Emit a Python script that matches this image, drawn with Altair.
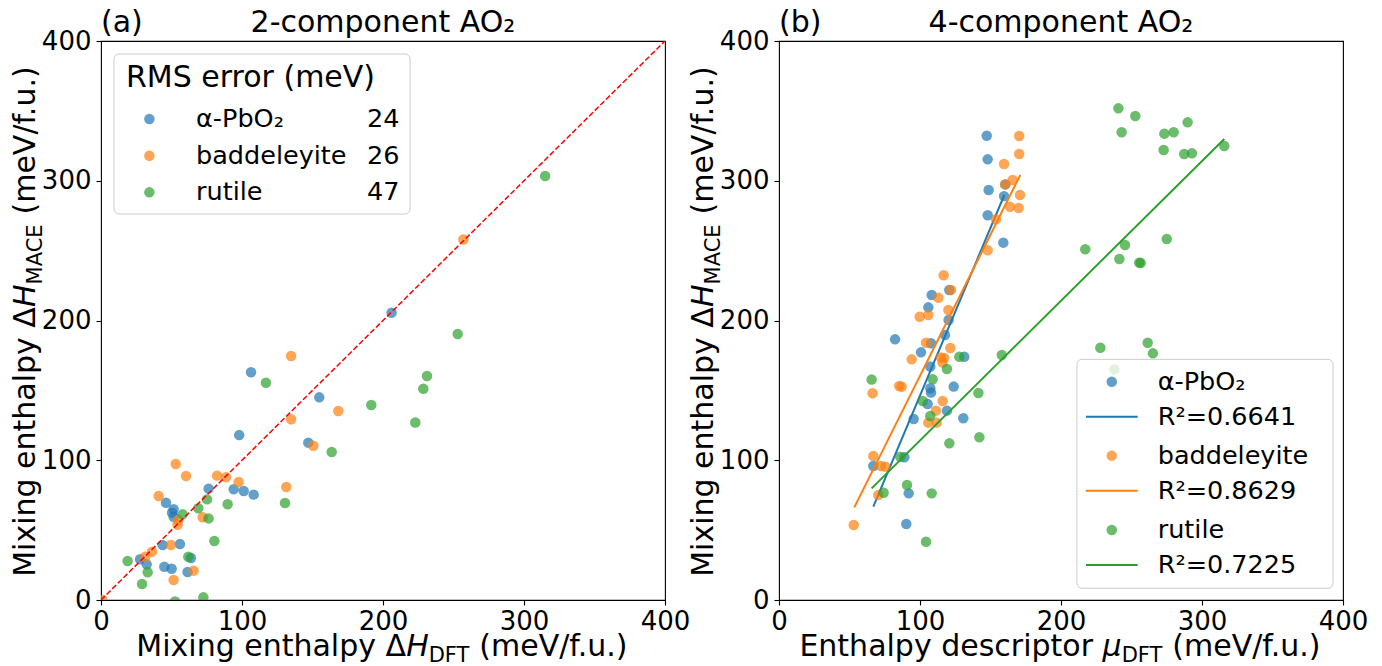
import altair as alt
import pandas as pd

FONT = "DejaVu Sans"

# ---------------- data ----------------
series_names = ["α-PbO₂", "baddeleyite", "rutile"]
series_colors = ["#1f77b4", "#ff7f0e", "#2ca02c"]
rms_errors = ["24", "26", "47"]
r2_labels = ["R²=0.6641", "R²=0.8629", "R²=0.7225"]

# panel (a): DFT vs MACE mixing enthalpy
a_pbo2_dft = [106.4, 98, 76.3, 94.1, 101.2, 108.3, 46.1, 51.5, 50.4, 51.5, 43.7, 56, 27.7, 32.4, 44.9, 50.1, 63.8, 61.4, 206.1, 154.8, 147]
a_pbo2_mace = [163, 118, 79.7, 79.2, 78, 75.4, 69.6, 64.9, 62.5, 59.6, 39.4, 40, 29.1, 25.5, 23.8, 22.4, 30, 20, 205.6, 145, 112.6]
a_badd_dft = [134.8, 134.8, 53, 60.3, 82.3, 88.7, 97.6, 131.4, 40.9, 54.8, 54.3, 72.1, 49.6, 36.2, 31.4, 65.7, 51.5, 1, 168.3, 150.6, 257]
a_badd_mace = [174.6, 129.3, 97.3, 88.7, 89, 87.8, 84.4, 80.9, 74.4, 57.2, 53.9, 59.2, 39.4, 34.6, 31, 21, 14.3, 0, 135.2, 110.4, 258]
a_rut_dft = [117, 130.5, 57.9, 69, 75.2, 76.3, 89.8, 80.4, 18.9, 33.1, 29.1, 61.9, 52.5, 72.6, 253, 231.2, 228.6, 191.7, 222.9, 163.6, 315]
a_rut_mace = [155.5, 69.4, 61.3, 65.6, 72, 58.4, 68.5, 42.2, 27.9, 19.8, 11.4, 31, -1, 1.9, 190.3, 160.3, 151.2, 139.5, 127, 105.9, 303.4]
parity_x = [0, 400]
parity_y = [0, 400]

# panel (b): enthalpy descriptor vs MACE mixing enthalpy
b_pbo2_mu = [147.3, 148, 160.5, 148.7, 159.6, 148, 159.1, 108.3, 120.8, 105.9, 120.3, 82.3, 117.7, 107.8, 131.4, 100.7,
             107.3, 107.3, 107.8, 123.9, 105.4, 119.1, 95.5, 130.7, 88.9, 66.9, 92, 90.3]
b_pbo2_mace = [332.2, 315.3, 297.4, 293.4, 289, 275.3, 255.7, 218.2, 221.8, 209.4, 200.4, 186.5, 189.6, 183.7, 174.1, 177.2,
               167, 151.5, 148.4, 152.7, 140.2, 135.5, 129.5, 130, 102.1, 95.9, 76.3, 54.4]
b_badd_mu = [170.4, 170.4, 159.6, 165.7, 160.5, 170.9, 163.8, 170, 153.9, 148, 116.8, 122, 113, 99.8, 105.9, 120.1, 104.3,
             121.5, 94.1, 114.9, 117.2, 116, 85.3, 87, 66.4, 116.1, 111.3, 105.9, 111.8, 66.9, 72.3, 75.4, 70.4, 53]
b_badd_mace = [332, 319.1, 312, 300.5, 297.4, 289.8, 281.4, 280.5, 272.4, 250.2, 232.3, 221.8, 216.3, 202.7, 203.9, 207.5, 184.1,
               180.3, 172.2, 173.6, 173.2, 170, 153.1, 152.6, 147.9, 142.4, 135.5, 126.9, 126.9, 103, 95.9, 95.4, 75.1, 53.7]
b_rut_mu = [127.9, 158, 119.1, 65.7, 109, 141.4, 101.9, 107.3, 142.1, 120.8, 86, 90.8, 108.3, 74.2, 104.3,
            240.7, 252.7, 243, 289.8, 273.3, 279.9, 272.8, 287.4, 292.9, 315.8, 217.2, 245.4, 275, 241.4, 255.5, 256.5,
            227.9, 261.5, 265.2, 237.8]
b_rut_mace = [174.1, 175.3, 165.3, 157.7, 157.9, 148.1, 142.4, 131.7, 116.4, 112.1, 102.5, 82.3, 76.3, 76.8, 41.7,
              351.8, 346.3, 334.7, 341.8, 333.7, 334.7, 322, 319.1, 319.6, 324.9, 251, 254, 258.3, 244, 241.4, 241.2,
              180.5, 184.1, 176.5, 165]
# fitted lines (end points)
fit_pbo2_mu = [66.9, 159.8]
fit_pbo2_mace = [66.8, 289.8]
fit_badd_mu = [53.4, 171.1]
fit_badd_mace = [66.3, 304.1]
fit_rut_mu = [65.7, 315.8]
fit_rut_mace = [79.9, 329.9]

# ---------------- styling helpers ----------------
W_PLOT, H_PLOT = 564, 559
XS = alt.Scale(domain=[0, 400], nice=False, zero=False)
YS = alt.Scale(domain=[0, 400], nice=False, zero=False)
TICKS = [0, 100, 200, 300, 400]
AX_COMMON = dict(values=TICKS, title=None, grid=False, domain=False, tickColor="black", tickSize=5,
                 tickWidth=1.1, labelFont=FONT, labelFontSize=26, labelColor="black",
                 labelFlush=False, labelOverlap=False)
XAX = alt.Axis(labelPadding=3, **AX_COMMON)
YAX = alt.Axis(labelPadding=5, **AX_COMMON)
ONE = pd.DataFrame({"k": [0]})

EM = {" ": .318, "(": .390, ")": .390, "-": .361, ".": .318, "/": .337, "A": .684, "C": .698, "D": .770,
      "E": .632, "F": .575, "H": .752, "M": .863, "T": .611, "V": .684, "a": .613, "c": .550, "d": .635,
      "e": .615, "f": .352, "g": .635, "h": .634, "i": .278, "l": .278, "m": .974, "n": .634, "o": .612,
      "p": .635, "r": .411, "s": .521, "t": .392, "u": .634, "x": .592, "y": .592, "Δ": .684, "μ": .636}
SUB = 0.7
PT_SIZE = 110


def em(s):
    return sum(EM.get(c, 0.6) for c in s)


def X(f):
    return alt.X(f"{f}:Q", scale=XS, axis=XAX)


def Y(f):
    return alt.Y(f"{f}:Q", scale=YS, axis=YAX)


def text_piece(txt, x, y, size, italic=False, angle=0, align="left"):
    return alt.Chart(ONE).mark_text(
        text=txt, font=FONT, fontSize=size, fontStyle="italic" if italic else "normal",
        align=align, baseline="alphabetic", angle=angle, color="black"
    ).encode(x=alt.value(x), y=alt.value(y))


def rich_label(pieces, size, center, base, sub_dy, vertical=False):
    """pieces: (text, italic, subscript, leading_space)"""
    total = 0.0
    for t, it, sb, sp in pieces:
        s = size * SUB if sb else size
        total += (EM[" "] * size if sp else 0) + em(t) * s
    pos = center - total / 2 if not vertical else center + total / 2
    out = []
    for t, it, sb, sp in pieces:
        s = size * SUB if sb else size
        adv = EM[" "] * size if sp else 0
        if vertical:
            pos -= adv
            out.append(text_piece(t, base + (sub_dy if sb else 0), pos, s, it, angle=270))
            pos -= em(t) * s
        else:
            pos += adv
            out.append(text_piece(t, pos, base + (sub_dy if sb else 0), s, it))
            pos += em(t) * s
    return out


def points(xs, ys, color):
    df = pd.DataFrame({"x": xs, "y": ys})
    return alt.Chart(df).mark_circle(size=PT_SIZE, opacity=0.7, color=color, clip=True).encode(x=X("x"), y=Y("y"))


def line(xs, ys, color, width=2, dash=None):
    df = pd.DataFrame({"x": xs, "y": ys})
    kw = dict(color=color, strokeWidth=width, clip=True)
    if dash:
        kw["strokeDash"] = dash
    return alt.Chart(df).mark_line(**kw).encode(x=X("x"), y=Y("y"))


def legend_box(x0, x1, y0, y1):
    df = pd.DataFrame({"x0": [x0], "x1": [x1], "y0": [y0], "y1": [y1]})
    return alt.Chart(df).mark_rect(fill="white", fillOpacity=0.8, stroke="#cccccc", strokeWidth=1,
                                   cornerRadius=5).encode(x=X("x0"), x2="x1:Q", y=Y("y0"), y2="y1:Q")


COLOR = alt.Color("name:N", scale=alt.Scale(domain=series_names, range=series_colors), legend=None)

FS_TITLE = 30
FS_LEG = 25.5
title_y = -9
xlab_y = H_PLOT + 56
ylab_x = -66

# ---------------- panel (a) ----------------
leg_a = pd.DataFrame({"name": series_names, "rms": rms_errors,
                      "mx": [34.3] * 3, "lx": [67.4] * 3, "vx": [211.6] * 3,
                      "y": [344.2, 317.9, 291.7]})
leg_a_title = pd.DataFrame({"t": ["RMS error (meV)"], "x": [17.7], "y": [367.3]})

layers_a = [
    points(a_pbo2_dft, a_pbo2_mace, series_colors[0]),
    points(a_badd_dft, a_badd_mace, series_colors[1]),
    points(a_rut_dft, a_rut_mace, series_colors[2]),
    line(parity_x, parity_y, "red", width=1.5, dash=[5.5, 2.4]),
    legend_box(9.2, 219.2, 276.2, 390.7),
    alt.Chart(leg_a_title).mark_text(font=FONT, fontSize=FS_TITLE, align="left", baseline="alphabetic",
                                     color="black").encode(x=X("x"), y=Y("y"), text="t:N"),
    alt.Chart(leg_a).mark_circle(size=PT_SIZE, opacity=0.7).encode(x=X("mx"), y=Y("y"), color=COLOR),
    alt.Chart(leg_a).mark_text(font=FONT, fontSize=FS_LEG, align="left", baseline="middle",
                               color="black").encode(x=X("lx"), y=Y("y"), text="name:N"),
    alt.Chart(leg_a).mark_text(font=FONT, fontSize=FS_LEG, align="right", baseline="middle",
                               color="black").encode(x=X("vx"), y=Y("y"), text="rms:N"),
    text_piece("(a)", 0, title_y, FS_TITLE),
    text_piece("2-component AO₂", W_PLOT / 2, title_y, FS_TITLE, align="center"),
]
layers_a += rich_label([("Mixing enthalpy Δ", False, False, False), ("H", True, False, False),
                        ("DFT", False, True, False), ("(meV/f.u.)", False, False, True)],
                       FS_TITLE, W_PLOT / 2, xlab_y, 6)
layers_a += rich_label([("Mixing enthalpy Δ", False, False, False), ("H", True, False, False),
                        ("MACE", False, True, False), ("(meV/f.u.)", False, False, True)],
                       FS_TITLE, H_PLOT / 2, ylab_x, 7, vertical=True)
chart_a = alt.layer(*layers_a).properties(width=W_PLOT, height=H_PLOT)

# ---------------- panel (b) ----------------
leg_b_pts = pd.DataFrame({"name": series_names, "mx": [236] * 3, "lx": [268.6] * 3,
                          "y": [156.2, 103.3, 50.1]})
leg_b_lines = pd.DataFrame({"name": series_names, "r2": r2_labels, "x0": [217.7] * 3, "x1": [254.4] * 3,
                            "lx": [268.6] * 3, "y": [131.2, 78.2, 25.0]})

layers_b = [
    points(b_pbo2_mu, b_pbo2_mace, series_colors[0]),
    line(fit_pbo2_mu, fit_pbo2_mace, series_colors[0]),
    points(b_badd_mu, b_badd_mace, series_colors[1]),
    line(fit_badd_mu, fit_badd_mace, series_colors[1]),
    points(b_rut_mu, b_rut_mace, series_colors[2]),
    line(fit_rut_mu, fit_rut_mace, series_colors[2]),
    legend_box(211.3, 392.9, 8.4, 172.2),
    alt.Chart(leg_b_pts).mark_circle(size=PT_SIZE, opacity=0.7).encode(x=X("mx"), y=Y("y"), color=COLOR),
    alt.Chart(leg_b_pts).mark_text(font=FONT, fontSize=FS_LEG, align="left", baseline="middle",
                                   color="black").encode(x=X("lx"), y=Y("y"), text="name:N"),
    alt.Chart(leg_b_lines).mark_rule(strokeWidth=2).encode(x=X("x0"), x2="x1:Q", y=Y("y"), color=COLOR),
    alt.Chart(leg_b_lines).mark_text(font=FONT, fontSize=FS_LEG, align="left", baseline="middle",
                                     color="black").encode(x=X("lx"), y=Y("y"), text="r2:N"),
    text_piece("(b)", 0, title_y, FS_TITLE),
    text_piece("4-component AO₂", W_PLOT / 2, title_y, FS_TITLE, align="center"),
]
layers_b += rich_label([("Enthalpy descriptor ", False, False, False), ("μ", True, False, False),
                        ("DFT", False, True, False), ("(meV/f.u.)", False, False, True)],
                       FS_TITLE, W_PLOT / 2, xlab_y, 6)
layers_b += rich_label([("Mixing enthalpy Δ", False, False, False), ("H", True, False, False),
                        ("MACE", False, True, False), ("(meV/f.u.)", False, False, True)],
                       FS_TITLE, H_PLOT / 2, ylab_x, 7, vertical=True)
chart_b = alt.layer(*layers_b).properties(width=W_PLOT, height=H_PLOT)

chart = alt.hconcat(chart_a, chart_b, spacing=114, bounds="flush").properties(
    padding={"left": 2, "top": -1, "right": 2, "bottom": 0}
).configure_view(stroke="black", strokeWidth=1.1)

chart.save("out.html", embed_options={"renderer": "svg", "actions": False})
